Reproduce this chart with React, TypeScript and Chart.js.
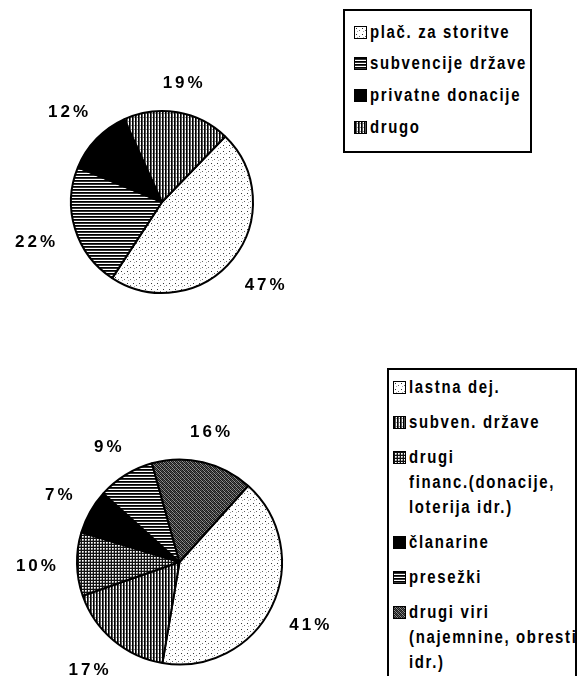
import React, { useEffect, useRef } from "react";
import { Chart, registerables } from "chart.js";
Chart.register(...registerables);

// ---- data ----
const topLabels = ["plač. za storitve", "subvencije države", "privatne donacije", "drugo"];
const topValues = [47, 22, 12, 19];
const topPatterns = ["dots", "hlines", "solid", "vlines"];

const bottomLabels = [
  ["lastna dej."],
  ["subven. države"],
  ["drugi", "financ.(donacije,", "loterija idr.)"],
  ["članarine"],
  ["presežki"],
  ["drugi viri", "(najemnine, obresti", "idr.)"],
];
const bottomValues = [41, 17, 10, 7, 9, 16];
const bottomPatterns = ["dots", "vlines", "grid", "solid", "hlines", "darkdots"];

// ---- pattern tiles ----
function makeTile(kind: string): HTMLCanvasElement {
  const c = document.createElement("canvas");
  const px = (ctx: CanvasRenderingContext2D, x: number, y: number, col: string) => {
    ctx.fillStyle = col;
    ctx.fillRect(x, y, 1, 1);
  };
  if (kind === "dots") {
    c.width = 6; c.height = 6;
    const ctx = c.getContext("2d")!;
    ctx.fillStyle = "#fff"; ctx.fillRect(0, 0, 6, 6);
    px(ctx, 1, 1, "#333"); px(ctx, 4, 3, "#666"); px(ctx, 2, 4, "#aaa");
  } else if (kind === "hlines") {
    c.width = 4; c.height = 3;
    const ctx = c.getContext("2d")!;
    ctx.fillStyle = "#fff"; ctx.fillRect(0, 0, 4, 3);
    ctx.fillStyle = "#000"; ctx.fillRect(0, 0, 4, 1);
    ctx.fillStyle = "#333"; ctx.fillRect(0, 1, 4, 1);
  } else if (kind === "vlines") {
    c.width = 3; c.height = 4;
    const ctx = c.getContext("2d")!;
    ctx.fillStyle = "#fff"; ctx.fillRect(0, 0, 3, 4);
    ctx.fillStyle = "#000"; ctx.fillRect(0, 0, 1, 4);
    ctx.fillStyle = "#555"; ctx.fillRect(1, 0, 1, 4);
    px(ctx, 2, 1, "#999");
  } else if (kind === "grid") {
    c.width = 3; c.height = 3;
    const ctx = c.getContext("2d")!;
    ctx.fillStyle = "#fff"; ctx.fillRect(0, 0, 3, 3);
    ctx.fillStyle = "#111"; ctx.fillRect(0, 0, 3, 1); ctx.fillRect(0, 0, 1, 3);
    px(ctx, 2, 2, "#777"); px(ctx, 1, 2, "#bbb"); px(ctx, 2, 1, "#bbb");
  } else if (kind === "darkdots") {
    c.width = 4; c.height = 4;
    const ctx = c.getContext("2d")!;
    ctx.fillStyle = "#1a1a1a"; ctx.fillRect(0, 0, 4, 4);
    px(ctx, 1, 0, "#888"); px(ctx, 3, 0, "#555"); px(ctx, 0, 1, "#666");
    px(ctx, 2, 1, "#999"); px(ctx, 1, 2, "#555"); px(ctx, 3, 2, "#888");
    px(ctx, 0, 3, "#999"); px(ctx, 2, 3, "#444");
  } else {
    c.width = 2; c.height = 2;
    const ctx = c.getContext("2d")!;
    ctx.fillStyle = "#000"; ctx.fillRect(0, 0, 2, 2);
  }
  return c;
}

function makePattern(kind: string): CanvasPattern | string {
  if (kind === "solid") return "#000";
  const ctx = document.createElement("canvas").getContext("2d")!;
  return ctx.createPattern(makeTile(kind), "repeat")!;
}

const pctLabelPlugin = {
  id: "pctLabels",
  afterDatasetsDraw(chart: any) {
    const ctx: CanvasRenderingContext2D = chart.ctx;
    const meta = chart.getDatasetMeta(0);
    const data = chart.data.datasets[0].data as number[];
    ctx.save();
    ctx.font = "bold 17px 'Liberation Sans', Arial, sans-serif";
    (ctx as any).letterSpacing = "3px";
    ctx.fillStyle = "#000";
    ctx.textAlign = "center";
    ctx.textBaseline = "middle";
    meta.data.forEach((arc: any, i: number) => {
      const p = arc.getProps(["x", "y", "startAngle", "endAngle", "outerRadius"], true);
      const mid = (p.startAngle + p.endAngle) / 2;
      const txt = data[i] + "%";
      const w = ctx.measureText(txt).width - 3;
      const h = 12;
      const dx = Math.cos(mid), dy = Math.sin(mid);
      const d = p.outerRadius + 21 + (w / 2) * Math.abs(dx) + (h / 2) * Math.abs(dy);
      ctx.fillText(txt, p.x + dx * d + 1.5, p.y + dy * d + 1);
    });
    ctx.restore();
  },
};

function PieChart(props: {
  values: number[];
  labels: string[];
  patterns: string[];
  rotation: number;
  padding: { left: number; top: number; right: number; bottom: number };
  style: React.CSSProperties;
  width: number;
  height: number;
}) {
  const ref = useRef<HTMLCanvasElement>(null);
  useEffect(() => {
    const chart = new Chart(ref.current!, {
      type: "pie",
      data: {
        labels: props.labels,
        datasets: [
          {
            data: props.values,
            backgroundColor: props.patterns.map(makePattern) as any,
            borderColor: "#000",
            borderWidth: 2,
          },
        ],
      },
      options: {
        animation: false,
        responsive: false,
        rotation: props.rotation,
        layout: { padding: props.padding },
        plugins: { legend: { display: false }, tooltip: { enabled: false } },
      },
      plugins: [pctLabelPlugin],
    });
    return () => chart.destroy();
  }, []);
  return <canvas ref={ref} width={props.width} height={props.height} style={{ position: "absolute", ...props.style }} />;
}

const legendFont: React.CSSProperties = {
  fontFamily: "'Liberation Sans', Arial, sans-serif",
  fontWeight: "bold",
  fontSize: "18px",
  letterSpacing: "2px",
  color: "#000",
  whiteSpace: "nowrap",
};

function NarrowText({ text }: { text: string }) {
  return (
    <span style={{ display: "inline-block", transform: "scaleX(0.83)", transformOrigin: "0 50%", ...legendFont }}>
      {text}
    </span>
  );
}

function Swatch({ kind }: { kind: string }) {
  const bg = kind === "solid" ? "#000" : `url(${makeTile(kind).toDataURL()})`;
  return (
    <span
      style={{
        display: "inline-block",
        width: 11,
        height: 11,
        border: "1.5px solid #000",
        background: bg,
        flex: "none",
      }}
    />
  );
}

export default function App() {
  const topStep = 31.7;
  return (
    <div style={{ position: "absolute", left: 0, top: 0, width: 578, height: 676, overflow: "hidden", background: "#fff" }}>
      <PieChart
        values={topValues}
        labels={topLabels}
        patterns={topPatterns}
        rotation={44}
        width={340}
        height={330}
        padding={{ left: 70, top: 110, right: 86, bottom: 36 }}
        style={{ left: 0, top: 0 }}
      />
      <PieChart
        values={bottomValues}
        labels={bottomLabels.map((l) => l.join(" "))}
        patterns={bottomPatterns}
        rotation={42}
        width={385}
        height={336}
        padding={{ left: 76, top: 118, right: 102, bottom: 10 }}
        style={{ left: 0, top: 340 }}
      />
      {/* top legend */}
      <div style={{ position: "absolute", left: 343, top: 9, width: 185, height: 140, border: "2px solid #000" }}>
        {topLabels.map((lab, i) => (
          <div
            key={i}
            style={{
              position: "absolute",
              left: 9,
              top: 10 + i * topStep,
              height: 22,
              display: "flex",
              alignItems: "center",
              gap: 3,
            }}
          >
            <Swatch kind={topPatterns[i]} />
            <NarrowText text={lab} />
          </div>
        ))}
      </div>
      {/* bottom legend */}
      <div style={{ position: "absolute", left: 387, top: 368, width: 186, height: 340, border: "2px solid #000" }}>
        {(() => {
          const rows: any[] = [];
          let y = 387 - 370;
          bottomLabels.forEach((lines, i) => {
            rows.push(
              <div key={i} style={{ position: "absolute", left: 4, top: y - 11, display: "flex", alignItems: "flex-start", gap: 3 }}>
                <span style={{ marginTop: 5, display: "inline-flex" }}>
                  <Swatch kind={bottomPatterns[i]} />
                </span>
                <div>
                  {lines.map((ln, j) => (
                    <div key={j} style={{ height: 25, lineHeight: "22px" }}>
                      <NarrowText text={ln} />
                    </div>
                  ))}
                </div>
              </div>
            );
            y += lines.length * 25 + 10;
          });
          return rows;
        })()}
      </div>
    </div>
  );
}
